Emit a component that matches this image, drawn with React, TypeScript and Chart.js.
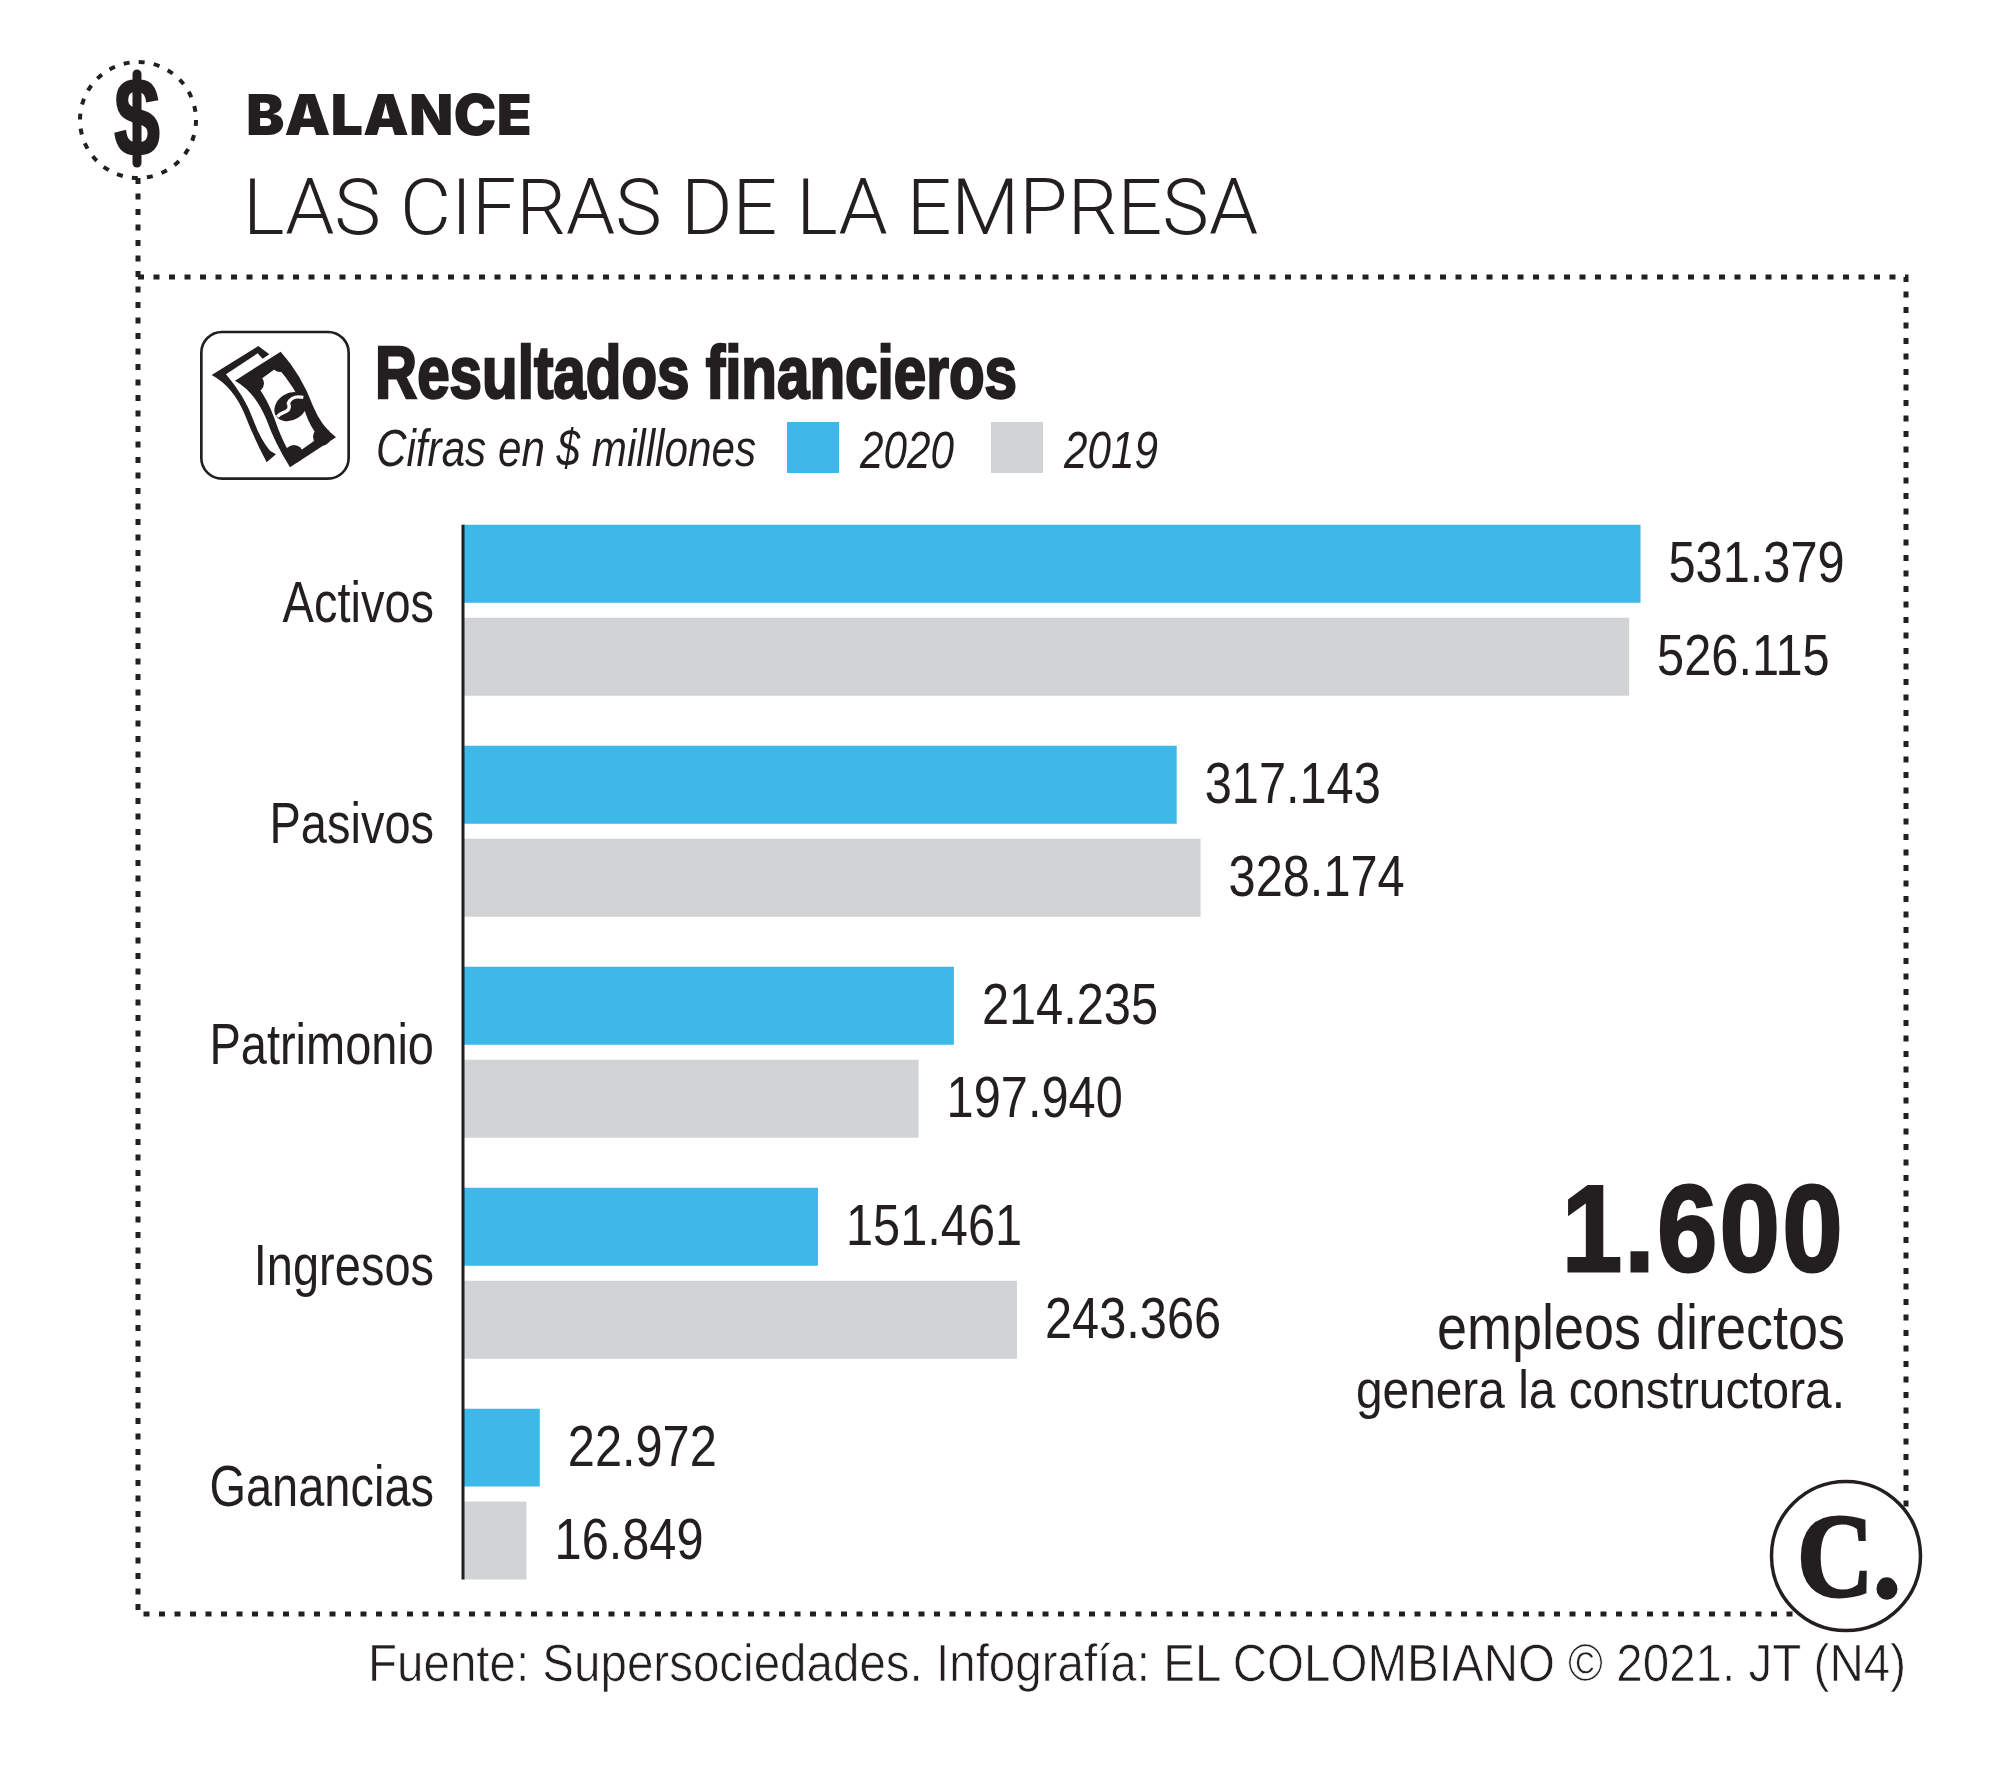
import React, { useEffect, useRef } from "react";
import { Chart, registerables } from "chart.js";

Chart.register(...registerables);

const categories = ["Activos", "Pasivos", "Patrimonio", "Ingresos", "Ganancias"];
const values2020 = [531379, 317143, 214235, 151461, 22972];
const values2019 = [526115, 328174, 197940, 243366, 16849];
const seriesLabels = ["2020", "2019"];
const BLUE = "#3DB8E8";
const GRAY = "#D1D3D4";
const INK = "#231F20";
const NARROW = '"Liberation Sans", sans-serif';
const AXIS_MIN = -12500;
const AXIS_MAX = 654000;

const formatValue = (v: number) => String(v).replace(/\B(?=(\d{3})+$)/g, ".");

// The installed sans has no condensed cut, so canvas labels are squeezed horizontally.
const squeezedText = (ctx: any, text: string, x: number, y: number, squeeze: number) => {
  ctx.save();
  ctx.translate(x, y);
  ctx.scale(squeeze, 1);
  ctx.fillText(text, 0, 0);
  ctx.restore();
};

const decorPlugin = {
  id: "decor",
  afterDatasetsDraw(chart: any) {
    const { ctx, scales } = chart;
    const first = chart.getDatasetMeta(0).data[0];
    const last = chart.getDatasetMeta(1).data[categories.length - 1];
    ctx.save();
    ctx.strokeStyle = INK;
    ctx.lineWidth = 3;
    ctx.beginPath();
    ctx.moveTo(scales.x.left, first.y - first.height / 2);
    ctx.lineTo(scales.x.left, last.y + last.height / 2);
    ctx.stroke();
    ctx.fillStyle = INK;
    ctx.font = `58px ${NARROW}`;
    ctx.textBaseline = "middle";
    ctx.textAlign = "left";
    chart.data.datasets.forEach((ds: any, i: number) => {
      chart.getDatasetMeta(i).data.forEach((el: any, j: number) => {
        squeezedText(ctx, formatValue(ds.data[j]), el.x + 28, el.y + 2, 0.84);
      });
    });
    ctx.textAlign = "right";
    scales.y.ticks.forEach((t: any, i: number) => {
      squeezedText(ctx, String(t.label), scales.x.left - 29, scales.y.getPixelForTick(i) - 4, 0.81);
    });
    ctx.restore();
  },
};

function MoneyIcon() {
  return (
    <g transform="translate(190 320) scale(0.3333)">
      <rect x="34" y="36" width="442" height="440" rx="62" fill="#fff" stroke={INK} strokeWidth="8" />
      <path
        d="M65 165 L205 78 L238 103 L218 116 L203 100 L108 163 Q165 230 190 300 Q212 360 240 392 L258 403 L230 427 Q190 350 165 285 Q130 200 65 165 Z"
        fill={INK}
      />
      <path d="M135 182 L272 95 Q335 165 370 260 Q395 320 438 352 L300 442 Q255 370 230 300 Q195 215 135 182 Z" fill={INK} />
      <path d="M196 190 L262 142 Q315 200 345 275 Q362 325 388 352 L305 410 Q275 360 255 300 Q232 235 196 190 Z" fill="#fff" />
      <circle cx="196" cy="190" r="26" fill={INK} />
      <circle cx="270" cy="132" r="24" fill={INK} />
      <circle cx="396" cy="350" r="27" fill={INK} />
      <circle cx="312" cy="402" r="27" fill={INK} />
      <ellipse cx="302" cy="260" rx="52" ry="40" transform="rotate(-32 302 260)" fill={INK} />
      <path d="M340 232 Q305 225 295 250 Q305 270 280 278 Q268 282 262 290" fill="none" stroke="#fff" strokeWidth="10" />
    </g>
  );
}

export default function App() {
  const ref = useRef<HTMLCanvasElement>(null);
  useEffect(() => {
    const chart = new Chart(ref.current as HTMLCanvasElement, {
      type: "bar",
      data: {
        labels: categories,
        datasets: [
          { label: seriesLabels[0], data: values2020, backgroundColor: BLUE, base: AXIS_MIN } as any,
          { label: seriesLabels[1], data: values2019, backgroundColor: GRAY, base: AXIS_MIN } as any,
        ],
      },
      options: {
        indexAxis: "y",
        responsive: false,
        animation: false,
        categoryPercentage: 0.8416,
        barPercentage: 0.8387,
        layout: { padding: { top: 499.8, bottom: 185.4, left: 0, right: 94 } },
        plugins: { legend: { display: false }, tooltip: { enabled: false } },
        scales: {
          x: { display: false, min: AXIS_MIN, max: AXIS_MAX },
          y: {
            grid: { display: false, drawTicks: false },
            border: { display: false },
            afterFit: (s: any) => {
              s.width = 463;
            },
            ticks: { display: false },
          },
        },
      } as any,
      plugins: [decorPlugin],
    });
    return () => chart.destroy();
  }, []);

  const light = "Roboto, sans-serif";
  return (
    <div style={{ position: "absolute", left: 0, top: 0, width: 2000, height: 1790, background: "#fff" }}>
      <canvas ref={ref} width={2000} height={1790} style={{ position: "absolute", left: 0, top: 0 }} />
      <svg width={2000} height={1790} style={{ position: "absolute", left: 0, top: 0 }}>
        <path d="M138 178 L138 1614 L1800 1614" fill="none" stroke={INK} strokeWidth="5" strokeDasharray="6 9.5" />
        <path d="M138 277 L1906 277 L1906 1530" fill="none" stroke={INK} strokeWidth="5" strokeDasharray="6 9.5" />
        <circle cx="138" cy="120" r="58" fill="none" stroke={INK} strokeWidth="4" strokeDasharray="6 9.2" />
        <line x1="137" y1="74" x2="137" y2="163" stroke={INK} strokeWidth="9" strokeLinecap="round" />
        <text x="114" y="156" textLength="46" lengthAdjust="spacingAndGlyphs" fontFamily="Liberation Sans" fontWeight="700" fontSize="112" fill={INK} stroke={INK} strokeWidth="2">$</text>

        <text x="246" y="135" textLength="286" lengthAdjust="spacingAndGlyphs" fontFamily="Inter, Liberation Sans" fontWeight="900" fontSize="57" fill={INK}>BALANCE</text>
        <text x="243" y="234" textLength="1015" lengthAdjust="spacingAndGlyphs" fontFamily={light} fontWeight="300" fontSize="78" fill={INK}>LAS CIFRAS DE LA EMPRESA</text>

        <MoneyIcon />

        <text x="375" y="398" textLength="642" lengthAdjust="spacingAndGlyphs" fontFamily={NARROW} fontWeight="700" fontSize="74" fill={INK} stroke={INK} strokeWidth="2.5">Resultados financieros</text>
        <text x="376" y="466" textLength="380" lengthAdjust="spacingAndGlyphs" fontFamily={NARROW} fontStyle="italic" fontSize="52" fill={INK}>Cifras en $ milllones</text>
        <rect x="787" y="422" width="52" height="51" fill={BLUE} />
        <text x="860" y="468" textLength="94" lengthAdjust="spacingAndGlyphs" fontFamily={NARROW} fontStyle="italic" fontSize="52" fill={INK}>{seriesLabels[0]}</text>
        <rect x="991" y="422" width="52" height="51" fill={GRAY} />
        <text x="1064" y="468" textLength="94" lengthAdjust="spacingAndGlyphs" fontFamily={NARROW} fontStyle="italic" fontSize="52" fill={INK}>{seriesLabels[1]}</text>

        <text x="1562" y="1271" textLength="283" lengthAdjust="spacingAndGlyphs" letterSpacing="3" fontFamily={NARROW} fontWeight="700" fontSize="122" fill={INK} stroke={INK} strokeWidth="3">1.600</text>
        <text x="1437" y="1349" textLength="408" lengthAdjust="spacingAndGlyphs" fontFamily={NARROW} fontSize="63" fill={INK}>empleos directos</text>
        <text x="1356" y="1408" textLength="489" lengthAdjust="spacingAndGlyphs" fontFamily={NARROW} fontSize="54" fill={INK}>genera la constructora.</text>

        <text x="368" y="1681" textLength="1538" lengthAdjust="spacingAndGlyphs" fontFamily="Liberation Sans" fontSize="51" fill={INK} stroke="#fff" strokeWidth="0.7">Fuente: Supersociedades. Infografía: EL COLOMBIANO © 2021. JT (N4)</text>

        <circle cx="1846" cy="1556" r="74.5" fill="#fff" stroke={INK} strokeWidth="3.5" />
        <text x="1797" y="1596" fontFamily="Liberation Serif" fontWeight="700" fontSize="118" textLength="103" lengthAdjust="spacingAndGlyphs" fill={INK} stroke={INK} strokeWidth="3">C.</text>
        <circle cx="1887" cy="1589" r="10.5" fill={INK} />
      </svg>
    </div>
  );
}
